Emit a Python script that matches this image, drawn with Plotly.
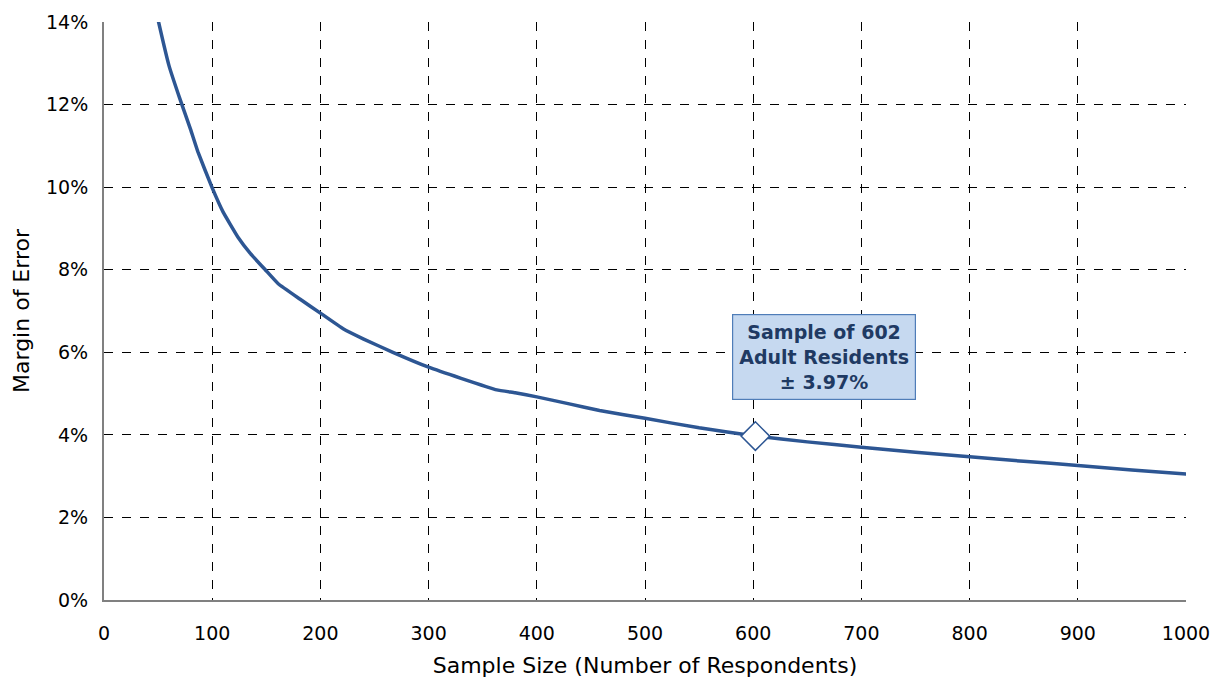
import plotly.graph_objects as go

sample_size = [45, 50, 60, 70, 80, 87, 100, 110, 124, 135, 149, 161, 181, 201, 221,
               240, 267, 300, 330, 363, 380, 400, 430, 458, 500, 550, 602, 650, 700,
               750, 800, 850, 900, 950, 1000, 1013]
margin_error = [0.1465, 0.1405, 0.1295, 0.1215, 0.114, 0.1084, 0.0998, 0.094, 0.0878,
                0.084, 0.080, 0.0766, 0.0729, 0.0693, 0.0657, 0.0632, 0.060, 0.0564,
                0.0537, 0.0509, 0.0502, 0.0492, 0.0475, 0.0459, 0.0440, 0.0417, 0.0397,
                0.0383, 0.0370, 0.0358, 0.0347, 0.0336, 0.0326, 0.0315, 0.0305, 0.0302]
highlight_n = [602]
highlight_moe = [0.0397]
label_text = "Sample of 602<br>Adult Residents<br>± 3.97%"
label_pos = (665, 0.0588)

font_family = "DejaVu Sans, sans-serif"
line_color = "#2D5693"

fig = go.Figure()
fig.add_trace(go.Scatter(x=sample_size, y=margin_error, mode="lines",
                         line=dict(color=line_color, width=3.5, shape="spline", smoothing=0.3),
                         showlegend=False, hoverinfo="skip"))
fig.add_trace(go.Scatter(x=highlight_n, y=highlight_moe, mode="markers",
                         marker=dict(symbol="diamond", size=22, color="white",
                                     line=dict(color=line_color, width=1.5)),
                         showlegend=False, cliponaxis=False))

fig.add_annotation(x=label_pos[0], y=label_pos[1], xref="x", yref="y", text=label_text,
                   showarrow=False, align="center",
                   font=dict(family="DejaVu Sans, sans-serif", size=19, color="#1F3A63", weight="bold"),
                   bgcolor="#C6D9F0", bordercolor="#4F7DB8", borderwidth=1.2, borderpad=6)

fig.update_layout(
    width=1223, height=683,
    margin=dict(l=96, r=45, t=14, b=91),
    paper_bgcolor="white", plot_bgcolor="white",
    font=dict(family=font_family, size=19, color="black"),
    xaxis=dict(range=[0, 1000], dtick=100, tick0=0, showgrid=True, gridcolor="black",
               gridwidth=1, griddash="dash", zeroline=False, showline=True,
               linecolor="#808080", linewidth=2, ticks="", ticklabelstandoff=15,
               automargin=False,
               title=dict(text="Sample Size (Number of Respondents)", font=dict(size=22), standoff=15)),
    yaxis=dict(range=[0, 0.14], dtick=0.02, tick0=0, tickformat=".0%", showgrid=True,
               gridcolor="black", gridwidth=1, griddash="dash", zeroline=False,
               showline=True, linecolor="#808080", linewidth=2, ticks="",
               ticklabelstandoff=10, automargin=False,
               title=dict(text="Margin of Error", font=dict(size=22), standoff=10)),
)

fig.write_html("out.html")
